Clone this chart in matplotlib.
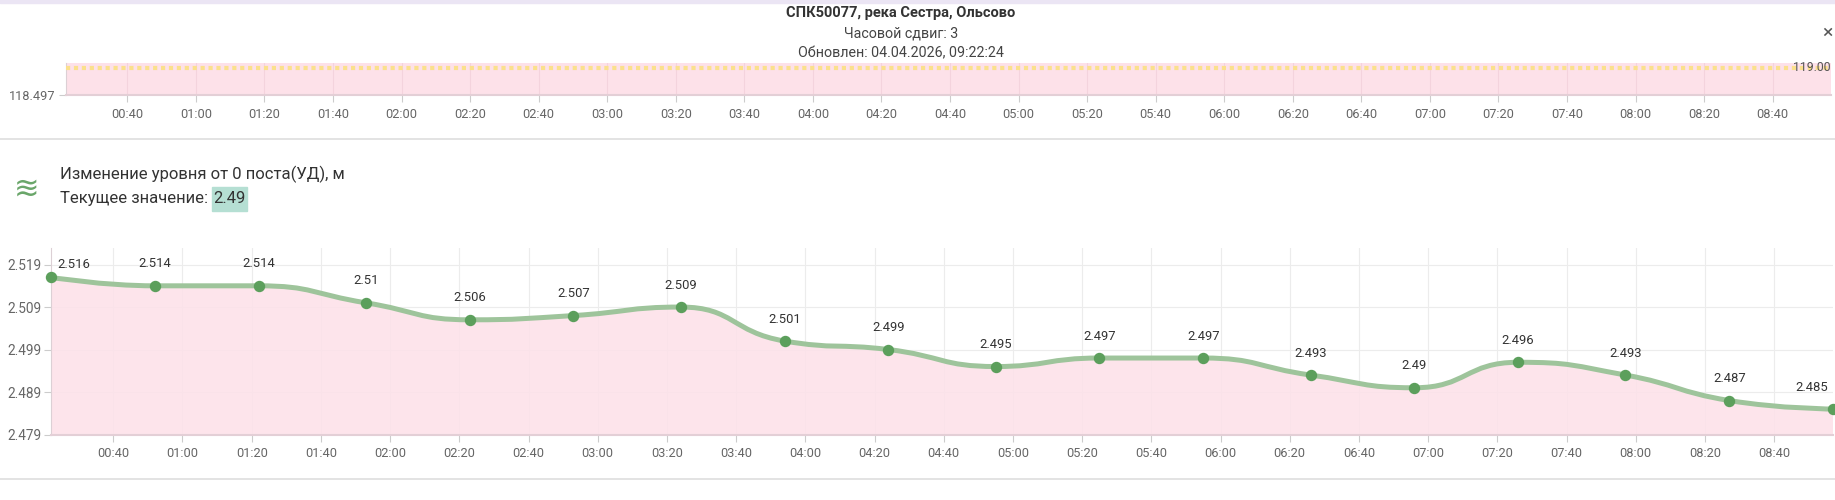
import math
import matplotlib
matplotlib.use("Agg")
import matplotlib.pyplot as plt
import matplotlib.dates as mdates
from matplotlib.path import Path
from matplotlib.patches import PathPatch, Rectangle
import pandas as pd

# --- data ---
day = "2026-04-04"
times = ["00:22", "00:52", "01:22", "01:53", "02:23", "02:53", "03:24", "03:54", "04:24",
         "04:55", "05:25", "05:55", "06:26", "06:56", "07:26", "07:57", "08:27", "08:57"]
levels = [2.516, 2.514, 2.514, 2.51, 2.506, 2.507, 2.509, 2.501, 2.499,
          2.495, 2.497, 2.497, 2.493, 2.49, 2.496, 2.493, 2.487, 2.485]
level_ticks = [2.479, 2.489, 2.499, 2.509, 2.519]
level_range = (2.479, 2.5229)

top_floor = 118.497
top_ceil = 119.087
danger_level = 119.00

title = "СПК50077, река Сестра, Ольсово"
shift_text = "Часовой сдвиг: 3"
updated_text = "Обновлен: 04.04.2026, 09:22:24"
param_name = "Изменение уровня от 0 поста(УД), м"
current_label = "Текущее значение:"
current_value = "2.49"

W, H = 1835, 500
plt.rcParams['font.family'] = ["Roboto", 'DejaVu Sans']

x = mdates.date2num(pd.to_datetime([f"{day} {t}" for t in times]))


def fx(px):
    return px / W


def fy(py):
    return 1 - py / H


def smooth_path(px, py, smooth=0.5):
    # echarts-like bezier smoothing, done in pixel space
    verts = [(px[0], py[0])]
    codes = [Path.MOVETO]
    cx0, cy0 = px[0], py[0]
    n = len(px)
    for i in range(1, n):
        xx, yy = px[i], py[i]
        pxx, pyy = px[i - 1], py[i - 1]
        if i == n - 1:
            cx1, cy1 = xx, yy
            nx0, ny0 = xx, yy
        else:
            nxx, nyy = px[i + 1], py[i + 1]
            vx, vy = nxx - pxx, nyy - pyy
            l0 = math.hypot(xx - pxx, yy - pyy)
            l1 = math.hypot(nxx - xx, nyy - yy)
            r = l1 / (l0 + l1)
            nx0 = xx + vx * smooth * r
            ny0 = yy + vy * smooth * r
            nx0 = max(min(nx0, max(nxx, xx)), min(nxx, xx))
            ny0 = max(min(ny0, max(nyy, yy)), min(nyy, yy))
            vx, vy = nx0 - xx, ny0 - yy
            cx1 = xx - vx * l0 / l1
            cy1 = yy - vy * l0 / l1
            cx1 = max(min(cx1, max(pxx, xx)), min(pxx, xx))
            cy1 = max(min(cy1, max(pyy, yy)), min(pyy, yy))
            vx, vy = xx - cx1, yy - cy1
            nx0 = xx + vx * l1 / l0
            ny0 = yy + vy * l1 / l0
        verts += [(cx0, cy0), (cx1, cy1), (xx, yy)]
        codes += [Path.CURVE4] * 3
        cx0, cy0 = nx0, ny0
    return verts, codes


fig = plt.figure(figsize=(W / 100, H / 100), dpi=100)

# page decorations
fig.patches.append(Rectangle((0, fy(3)), 1, 3 / H, transform=fig.transFigure,
                             color="#ebe5f4", zorder=0))
fig.lines.append(plt.Line2D([0, 1], [fy(139), fy(139)], transform=fig.transFigure,
                            color="#dedede", lw=1.2))
fig.lines.append(plt.Line2D([0, 1], [fy(479), fy(479)], transform=fig.transFigure,
                            color="#dedede", lw=1.2))

fig.text(fx(901), fy(13.5), title, ha="center", va="center", fontsize=10.5,
         fontweight="bold", color="#333333")
fig.text(fx(901), fy(33.5), shift_text, ha="center", va="center", fontsize=10.3, color="#444444")
fig.text(fx(901), fy(53), updated_text, ha="center", va="center", fontsize=10.3, color="#444444")
fig.text(fx(1833), fy(33), "×", ha="right", va="center", fontsize=14, color="#555555")

# --- top strip chart ---
axt = fig.add_axes([fx(65.6), fy(95), (1831 - 65.6) / W, 32 / H])
axt.set_facecolor("#fde1e9")
axt.set_xlim(x[0], x[-1])
axt.set_ylim(top_floor, top_ceil)
axt.axhline(danger_level, color="#fbe08c", lw=3, linestyle=(0, (1.0, 0.9)), zorder=3)
axt.text(x[-1], danger_level, "119.00", ha="right", va="center", fontsize=8.8,
         color="#555555", zorder=4)
axt.set_yticks([top_floor])
axt.set_yticklabels(["118.497"])
axt.xaxis.set_major_locator(mdates.MinuteLocator(byminute=[0, 20, 40]))
axt.xaxis.set_major_formatter(mdates.DateFormatter("%H:%M"))
axt.grid(axis="x", color="#f4d3dd", lw=0.8)
for s in ["top", "right"]:
    axt.spines[s].set_visible(False)
axt.spines["left"].set_color("#dcd0d5")
axt.spines["bottom"].set_color("#e3cfd6")
axt.spines["bottom"].set_linewidth(1.5)
axt.tick_params(axis="x", length=5, color="#cccccc", labelsize=9.2, labelcolor="#666666", pad=4)
axt.tick_params(axis="y", length=5, color="#cccccc", labelsize=9.2, labelcolor="#666666", pad=2)

# --- header for the level chart ---
fig.text(fx(26.5), fy(189), "≋", ha="center", va="center", fontsize=22, color="#6aa66a",
         family="DejaVu Sans")
fig.text(fx(60), fy(174.5), param_name, ha="left", va="center", fontsize=12, color="#333333")
lbl = fig.text(fx(60), fy(198.5), current_label, ha="left", va="center", fontsize=12,
               color="#333333")
bb = lbl.get_window_extent(renderer=fig.canvas.get_renderer())
box_x = bb.x1 + 4
val = fig.text((box_x + 1) / W, fy(198.5), current_value, ha="left", va="center", fontsize=12,
               color="#333333", zorder=2)
vb = val.get_window_extent(renderer=fig.canvas.get_renderer())
fig.patches.append(Rectangle((box_x / W, fy(211)), (vb.x1 - box_x + 1) / W, 24 / H,
                             transform=fig.transFigure, color="#b5dfd3", zorder=1))

# --- level chart ---
ax = fig.add_axes([fx(51), fy(434.5), (1833 - 51) / W, (434.5 - 248) / H])
ax.set_xlim(x[0], x[-1])
ax.set_ylim(*level_range)
ax.set_yticks(level_ticks)
ax.set_yticklabels([f"{v:.3f}" for v in level_ticks])
ax.xaxis.set_major_locator(mdates.MinuteLocator(byminute=[0, 20, 40]))
ax.xaxis.set_major_formatter(mdates.DateFormatter("%H:%M"))
ax.set_axisbelow(True)
ax.grid(color="#ececec", lw=0.8)
for s in ["top", "right"]:
    ax.spines[s].set_visible(False)
ax.spines["left"].set_color("#dcd0d5")
ax.spines["bottom"].set_color("#e3cfd6")
ax.spines["bottom"].set_linewidth(1.5)
ax.tick_params(axis="x", length=5, color="#cccccc", labelsize=9.2, labelcolor="#666666", pad=4)
ax.tick_params(axis="y", length=5, color="#cccccc", labelsize=9.8, labelcolor="#666666", pad=2)

# smoothed curve: control points computed in display space, then mapped back to data
disp = ax.transData.transform(list(zip(x, levels)))
verts, codes = smooth_path(disp[:, 0], disp[:, 1])
inv = ax.transData.inverted()
dverts = [tuple(p) for p in inv.transform(verts)]

area = Path(dverts + [(x[-1], level_range[0]), (x[0], level_range[0]), dverts[0]],
            codes + [Path.LINETO, Path.LINETO, Path.CLOSEPOLY])
ax.add_patch(PathPatch(area, facecolor="#fde1e9", edgecolor="none", alpha=0.88, zorder=1))
ax.add_patch(PathPatch(Path(dverts, codes), facecolor="none", edgecolor="#9ec49b",
                       lw=3.6, zorder=3, capstyle="round", joinstyle="round"))
ax.plot(x, levels, "o", color="#5c9f5c", markersize=7.2, zorder=4, clip_on=False)

for i, (xi, v) in enumerate(zip(x, levels)):
    if i == 0:
        off, ha = (6, 13), "left"
    elif i == len(levels) - 1:
        off, ha = (-5, 22), "right"
    else:
        off, ha = (0, 22), "center"
    ax.annotate(f"{v:g}", (xi, v), xytext=off, textcoords="offset pixels", ha=ha,
                va="center", fontsize=9.4, color="#333333", zorder=5, annotation_clip=False)

fig.savefig("out.png", dpi=100)
